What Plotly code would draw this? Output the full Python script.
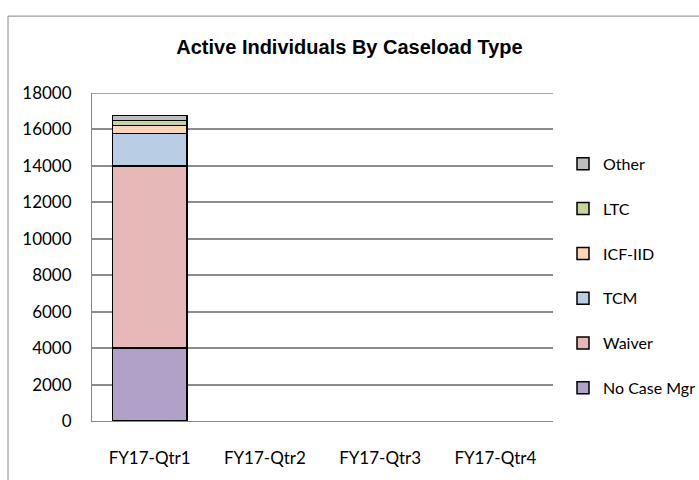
import plotly.graph_objects as go

categories = ["FY17-Qtr1", "FY17-Qtr2", "FY17-Qtr3", "FY17-Qtr4"]
series_names = ["No Case Mgr", "Waiver", "TCM", "ICF-IID", "LTC", "Other"]
no_case_mgr = [4000, None, None, None]
waiver = [10000, None, None, None]
tcm = [1780, None, None, None]
icf_iid = [450, None, None, None]
ltc = [260, None, None, None]
other = [280, None, None, None]
y_ticks = [0, 2000, 4000, 6000, 8000, 10000, 12000, 14000, 16000, 18000]

series_values = [no_case_mgr, waiver, tcm, icf_iid, ltc, other]
colors = ["#B1A0C7", "#E6B9B8", "#B9CDE5", "#FCD5B5", "#C3D69B", "#BFBFBF"]

FONT = "Lato, Open Sans, sans-serif"
TFONT = "Liberation Sans, Arial, sans-serif"

fig = go.Figure()
n = len(series_names)
for i, (name, vals, col) in enumerate(zip(series_names, series_values, colors)):
    fig.add_trace(go.Bar(
        x=categories, y=vals, name=name, legendgroup=name,
        legendrank=n - i,
        marker=dict(color=col, line=dict(color="#000000", width=1.5)),
        width=0.645,
    ))

W, H = 699, 480
L, R, T, B = 92, 146, 93, 58.5
pw, ph = W - L - R, H - T - B

def px_to_paper_x(px):
    return (px - L) / pw

def px_to_paper_y(py):
    return (H - B - py) / ph

fig.update_layout(
    width=W, height=H,
    margin=dict(l=L, r=R, t=T, b=B, pad=0, autoexpand=False),
    barmode="stack",
    paper_bgcolor="white", plot_bgcolor="white",
    font=dict(family=FONT, size=17, color="#000000"),
    title=dict(
        text="<b>Active Individuals By Caseload Type</b>",
        x=349.5 / W, xref="container", xanchor="center",
        y=1 - 47 / H, yref="container", yanchor="middle",
        font=dict(family=TFONT, size=20, color="#000000"),
    ),
    xaxis=dict(
        type="category", categoryorder="array", categoryarray=categories,
        showgrid=False, showline=True, linecolor="#868686", linewidth=1,
        ticks="", ticklabelstandoff=22,
        tickfont=dict(family=FONT, size=17),
        range=[-0.5, 3.5],
    ),
    yaxis=dict(
        range=[0, 18000], tickvals=y_ticks, ticktext=[str(v) for v in y_ticks],
        showgrid=True, gridcolor="#8C8C8C", gridwidth=1.5,
        showline=True, linecolor="#868686", linewidth=1,
        zeroline=False, ticks="", ticklabelstandoff=16,
        tickfont=dict(family=FONT, size=17),
    ),
    legend=dict(
        x=px_to_paper_x(563), xanchor="left",
        y=px_to_paper_y(147), yanchor="top",
        traceorder="grouped", tracegroupgap=21,
        font=dict(family=FONT, size=16),
        bgcolor="rgba(0,0,0,0)", borderwidth=0,
        itemclick=False,
    ),
    showlegend=True,
    shapes=[
        dict(type="line", xref="paper", yref="y",
             x0=0, x1=1, y0=y_ticks[-1], y1=y_ticks[-1],
             line=dict(color="#8C8C8C", width=1.5), layer="below"),
        dict(type="line", xref="paper", yref="paper",
             x0=px_to_paper_x(8), x1=px_to_paper_x(8),
             y0=px_to_paper_y(16), y1=px_to_paper_y(485),
             line=dict(color="#868686", width=1), layer="below"),
        dict(type="line", xref="paper", yref="paper",
             x0=px_to_paper_x(8), x1=px_to_paper_x(705),
             y0=px_to_paper_y(16), y1=px_to_paper_y(16),
             line=dict(color="#868686", width=1), layer="below"),
    ],
)

fig.write_html("out.html", config={"displayModeBar": False},
               post_script="document.body.style.margin='0';")
